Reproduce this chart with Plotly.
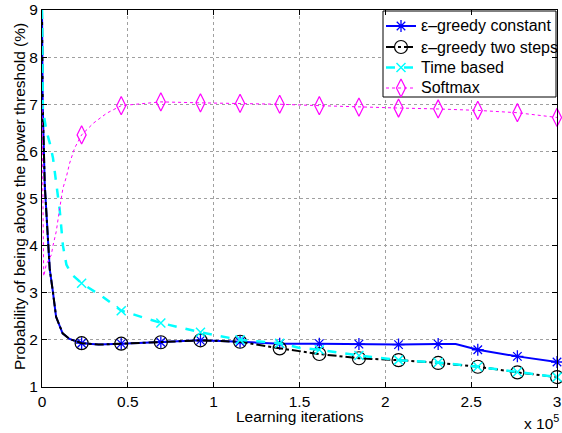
import plotly.graph_objects as go

# ---------------- data (x in units of 1e5 learning iterations) ----------------
x_ticks = [0, 0.5, 1, 1.5, 2, 2.5, 3]
x_tick_labels = ["0", "0.5", "1", "1.5", "2", "2.5", "3"]
y_ticks = [1, 2, 3, 4, 5, 6, 7, 8, 9]

# marker positions (shared by all series)
marker_x = [0.2308, 0.4615, 0.6923, 0.9231, 1.1538, 1.3846, 1.6154,
            1.8462, 2.0769, 2.3077, 2.5385, 2.7692, 3.0]

# epsilon-greedy constant
const_line_x = [0, 0.004, 0.016, 0.031, 0.045, 0.062, 0.082, 0.12, 0.16, 0.2308,
                0.33, 0.4615, 0.6923, 0.9231, 1.1538, 1.3846, 1.6154, 1.8462,
                2.0769, 2.3077, 2.41, 2.5385, 2.7692, 3.0]
const_line_y = [9.0, 7.0, 5.29, 4.33, 3.5, 3.06, 2.49, 2.14, 2.02, 1.93,
                1.90, 1.92, 1.95, 1.99, 1.96, 1.92, 1.92, 1.91,
                1.90, 1.91, 1.91, 1.79, 1.65, 1.53]
const_marker_y = [1.93, 1.92, 1.95, 1.99, 1.96, 1.92, 1.92, 1.91, 1.90, 1.91, 1.79, 1.65, 1.53]

# epsilon-greedy two steps
two_line_x = [0, 0.004, 0.016, 0.031, 0.045, 0.062, 0.082, 0.12, 0.16, 0.2308,
              0.33, 0.4615, 0.6923, 0.9231, 1.1538, 1.3846, 1.6154, 1.8462,
              2.0769, 2.3077, 2.5385, 2.7692, 3.0]
two_line_y = [9.0, 7.0, 5.29, 4.33, 3.5, 3.06, 2.49, 2.14, 2.02, 1.93,
              1.90, 1.92, 1.95, 1.99, 1.96, 1.82, 1.70, 1.61,
              1.57, 1.51, 1.43, 1.31, 1.21]
two_marker_y = [1.93, 1.92, 1.95, 1.99, 1.96, 1.82, 1.70, 1.61, 1.57, 1.51, 1.43, 1.31, 1.21]

# time based
time_line_x = [0, 0.005, 0.025, 0.045, 0.064, 0.083, 0.103, 0.122, 0.142, 0.17,
               0.2308, 0.348, 0.4615, 0.6923, 0.9231, 1.1538, 1.3846, 1.5,
               1.6154, 1.8462, 2.0769, 2.3077, 2.5385, 2.7692, 3.0]
time_line_y = [9.0, 6.9, 6.45, 6.18, 5.86, 5.35, 4.76, 4.0, 3.6, 3.4,
               3.2, 2.93, 2.62, 2.36, 2.16, 2.0, 1.93, 1.83,
               1.79, 1.67, 1.57, 1.52, 1.43, 1.32, 1.21]
time_marker_y = [3.2, 2.62, 2.36, 2.16, 2.0, 1.93, 1.79, 1.67, 1.57, 1.52, 1.43, 1.32, 1.21]

# softmax
soft_line_x = [0, 0.01, 0.025, 0.054, 0.064, 0.083, 0.103, 0.122, 0.142, 0.161,
               0.19, 0.2308, 0.30, 0.377, 0.4615, 0.6923, 0.9231, 1.1538,
               1.3846, 1.6154, 1.8462, 2.0769, 2.3077, 2.5385, 2.7692, 3.0]
soft_line_y = [7.0, 3.35, 3.6, 3.8, 4.0, 4.3, 4.79, 5.22, 5.46, 5.75,
               6.07, 6.35, 6.6, 6.81, 6.97, 7.05, 7.03, 7.02,
               7.00, 6.97, 6.94, 6.92, 6.90, 6.87, 6.82, 6.72]
soft_marker_y = [6.35, 6.97, 7.05, 7.03, 7.02, 7.00, 6.97, 6.94, 6.92, 6.90, 6.87, 6.82, 6.72]

series_names = ["\u03b5\u2013greedy constant", "\u03b5\u2013greedy two steps", "Time based", "Softmax"]

styles = [
    dict(color="#0000FF", dash="solid", width=2, symbol="asterisk-open", msize=10, mwidth=1.3),
    dict(color="#000000", dash="dashdot", width=2, symbol="circle-open", msize=13, mwidth=1.2),
    dict(color="#00FFFF", dash="dash", width=2.5, symbol="x-thin-open", msize=9, mwidth=1.5),
    dict(color="#FF00FF", dash="dot", width=1, symbol="diamond-tall-open", msize=13, mwidth=1.2),
]
lines_x = [const_line_x, two_line_x, time_line_x, soft_line_x]
lines_y = [const_line_y, two_line_y, time_line_y, soft_line_y]
markers_y = [const_marker_y, two_marker_y, time_marker_y, soft_marker_y]

FONT = "Liberation Sans, Arial, Helvetica, sans-serif"

# plot area in pixels (layout)
L, R, T, B = 42, 557, 10, 387
W, H = 562, 433


def px_x(p):
    return (p - L) / (R - L)


def px_y(p):
    return (B - p) / (B - T)


fig = go.Figure()
for name, st, lx, ly, my in zip(series_names, styles, lines_x, lines_y, markers_y):
    fig.add_trace(go.Scatter(x=lx, y=ly, mode="lines", showlegend=False, name=name,
                             line=dict(color=st["color"], dash=st["dash"], width=st["width"]),
                             hoverinfo="skip"))
    fig.add_trace(go.Scatter(x=marker_x, y=my, mode="markers", showlegend=False, name=name,
                             cliponaxis=False,
                             marker=dict(symbol=st["symbol"], size=st["msize"], color=st["color"],
                                         line=dict(color=st["color"], width=st["mwidth"]))))

# ---- legend drawn on an overlay axis whose units are pixels ----
leg_left, leg_right, leg_top, leg_bottom = 383, 556, 11, 97
row_y = [26, 47, 67.5, 88]
fig.add_trace(go.Scatter(x=[leg_left, leg_right, leg_right, leg_left, leg_left],
                         y=[leg_top, leg_top, leg_bottom, leg_bottom, leg_top],
                         xaxis="x2", yaxis="y2", mode="lines", fill="toself",
                         fillcolor="white", line=dict(color="black", width=1),
                         showlegend=False, hoverinfo="skip"))
annotations = []
for name, st, ry in zip(series_names, styles, row_y):
    fig.add_trace(go.Scatter(x=[leg_left + 3, leg_left + 33], y=[ry, ry], xaxis="x2", yaxis="y2",
                             mode="lines", showlegend=False, hoverinfo="skip",
                             line=dict(color=st["color"], dash=st["dash"], width=st["width"])))
    fig.add_trace(go.Scatter(x=[leg_left + 18], y=[ry], xaxis="x2", yaxis="y2",
                             mode="markers", showlegend=False, hoverinfo="skip", cliponaxis=False,
                             marker=dict(symbol=st["symbol"], size=st["msize"], color=st["color"],
                                         line=dict(color=st["color"], width=st["mwidth"]))))
    annotations.append(dict(text=name, x=px_x(leg_left + 36), y=px_y(ry), xref="paper", yref="paper",
                            xanchor="left", yanchor="middle", showarrow=False,
                            font=dict(family=FONT, size=16, color="black")))

# axis titles and exponent label
annotations.append(dict(text="Learning iterations", x=0.5, y=px_y(416), xref="paper", yref="paper",
                        xanchor="center", yanchor="middle", showarrow=False,
                        font=dict(family=FONT, size=15.5, color="black")))
annotations.append(dict(text="Probability of being above the power threshold (%)",
                        x=px_x(19), y=px_y(197), xref="paper", yref="paper", textangle=-90,
                        xanchor="center", yanchor="middle", showarrow=False,
                        font=dict(family=FONT, size=15.5, color="black")))
annotations.append(dict(text="x 10<sup>5</sup>", x=px_x(561), y=px_y(422), xref="paper", yref="paper",
                        xanchor="right", yanchor="middle", showarrow=False,
                        font=dict(family=FONT, size=15.5, color="black")))

axis_common = dict(showline=True, linecolor="black", linewidth=1, mirror="allticks",
                   ticks="inside", ticklen=5, tickcolor="black", automargin=False,
                   showgrid=True, gridcolor="#a0a0a0", griddash="dot", gridwidth=1,
                   zeroline=False, tickfont=dict(family=FONT, size=15.5, color="black"))

fig.update_layout(
    width=W, height=H,
    margin=dict(l=L, r=W - R, t=T, b=H - B),
    paper_bgcolor="white", plot_bgcolor="white",
    font=dict(family=FONT, size=15.5, color="black"),
    showlegend=False,
    xaxis=dict(range=[0, 3], tickvals=x_ticks, ticktext=x_tick_labels, **axis_common),
    yaxis=dict(range=[1, 9], tickvals=y_ticks, **axis_common),
    xaxis2=dict(range=[L, R], overlaying="x", anchor="y2", visible=False, fixedrange=True),
    yaxis2=dict(range=[B, T], overlaying="y", anchor="x2", visible=False, fixedrange=True),
    annotations=annotations,
)

fig.write_html("out.html", config={"displayModeBar": False},
               post_script="document.body.style.margin='0';document.body.style.overflow='hidden';")
